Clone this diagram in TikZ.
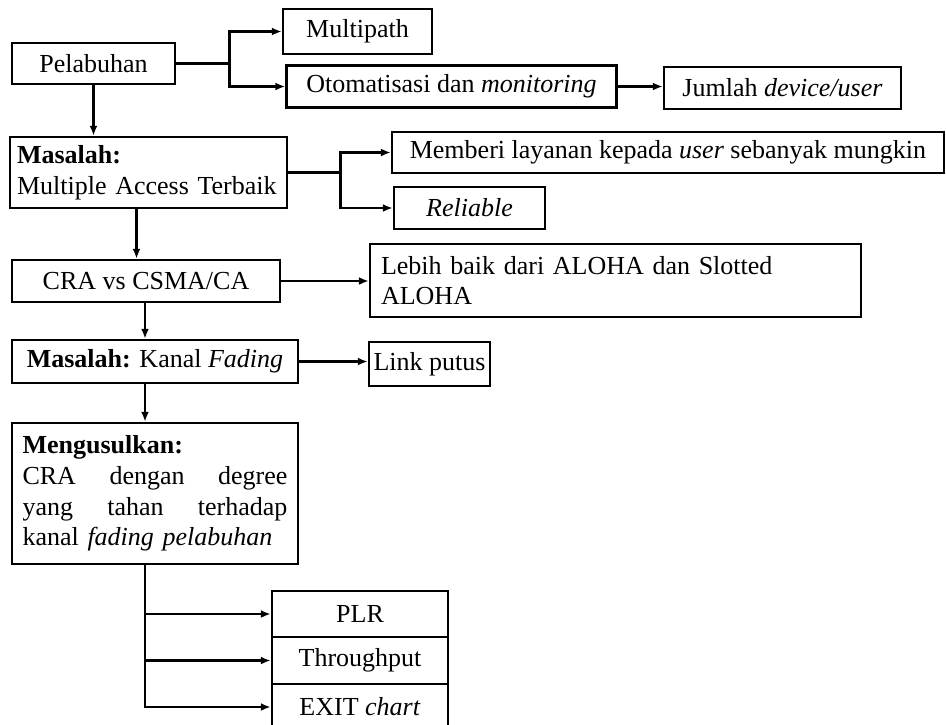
\documentclass[tikz,border=0pt]{standalone}
\usepackage{fontspec}
\setmainfont{Liberation Serif}
\usetikzlibrary{calc}
\usetikzlibrary{positioning}
\usetikzlibrary{arrows.meta}

\tikzset{
  box/.style={draw, rectangle, line width=1.6pt, inner sep=0pt,
    font=\fontsize{14.8}{17.5}\selectfont},
  arr/.style={line width=1.3pt, -{Latex[length=5.5pt,width=4.5pt]}},
  wire/.style={line width=1.3pt},
}

\begin{document}
\begin{tikzpicture}[x=0.02cm, y=-0.02cm]
  \useasboundingbox (0,0) rectangle (946,724);

  % top row
  \node [box, minimum width=3.26cm, minimum height=0.82cm] (pel) at (93.5,63.5) {Pelabuhan};
  \node [box, minimum width=2.98cm, minimum height=0.9cm] (multi) at (357.5,31.5) {Multipath};
  \node [box, minimum width=6.6cm, minimum height=0.84cm] (oto) at (451.5,86.5) {Otomatisasi dan \textit{monitoring}};
  \node [box, minimum width=4.74cm, minimum height=0.84cm] (jml) at (782.5,88) {Jumlah \textit{device/user}};

  \coordinate (b1) at ($(pel.east)+(53,0)$);
  \draw [wire] (pel.east) -- (b1);
  \draw [arr] (b1) |- (multi.west);
  \draw [arr] (b1) |- (oto.west);
  \draw [arr] (oto.east) -- (oto.east -| jml.west);

  % masalah 1
  \node [box, minimum height=1.42cm, text width=5.26cm, inner xsep=0.14cm, align=left] (mas1) at (148.5,172.5)
    {\textbf{Masalah:}\\Multiple Access Terbaik};
  \node [box, minimum width=11.04cm, minimum height=0.82cm] (beri) at (668,152.5) {Memberi layanan kepada \textit{user} sebanyak mungkin};
  \node [box, minimum width=3.02cm, minimum height=0.84cm] (rel) at (469.5,208) {\textit{Reliable}};

  \draw [arr] (pel.south) -- (pel.south |- mas1.north);
  \coordinate (b2) at ($(mas1.east)+(52,0)$);
  \draw [wire] (mas1.east) -- (b2);
  \draw [arr] (b2) |- (beri.west);
  \draw [arr] (b2) |- (rel.west);

  % cra
  \node [box, minimum width=5.36cm, minimum height=0.84cm] (cra) at (146,281) {CRA vs CSMA/CA};
  \node [box, minimum height=1.46cm, text width=9.38cm, inner xsep=0.22cm, align=left] (lebih) at (615.5,280.5)
    {Lebih baik dari ALOHA dan Slotted\\ALOHA};

  \coordinate (d1) at ($(mas1.south)+(-12,0)$);
  \draw [arr] (d1) -- (d1 |- cra.north);
  \draw [arr] (cra.east) -- (cra.east -| lebih.west);

  % masalah 2
  \node [box, minimum width=5.72cm, minimum height=0.86cm] (mas2) at (155,361.5) {\textbf{Masalah:} Kanal \textit{Fading}};
  \node [box, minimum width=2.42cm, minimum height=0.88cm] (link) at (429.5,364) {Link putus};

  \coordinate (d2) at ($(cra.south)+(-1,0)$);
  \draw [arr] (d2) -- (d2 |- mas2.north);
  \draw [arr] (mas2.east) -- (mas2.east -| link.west);

  % usulan
  \node [box, minimum height=2.82cm, text width=5.3cm, inner xsep=0.21cm, align=left] (usul) at (155,493.5)
    {\textbf{Mengusulkan:}\\CRA\hfill dengan\hfill degree\\yang\hfill tahan\hfill terhadap\\kanal \textit{fading pelabuhan}};
  \draw [arr] (d2 |- mas2.south) -- (d2 |- usul.north);

  % hasil
  \node [box, minimum width=3.52cm, minimum height=0.92cm] (plr) at (360,614) {PLR};
  \node [box, minimum width=3.52cm, minimum height=0.94cm] (thr) at (360,660.5) {Throughput};
  \node [box, minimum width=3.52cm, minimum height=0.92cm] (exit) at (360,707) {EXIT \textit{chart}};

  \coordinate (t) at (d2 |- usul.south);
  \draw [wire] (t) -- (t |- exit.west);
  \draw [arr] (t) |- (plr.west);
  \draw [arr] (t) |- (thr.west);
  \draw [arr] (t) |- (exit.west);
\end{tikzpicture}
\end{document}
